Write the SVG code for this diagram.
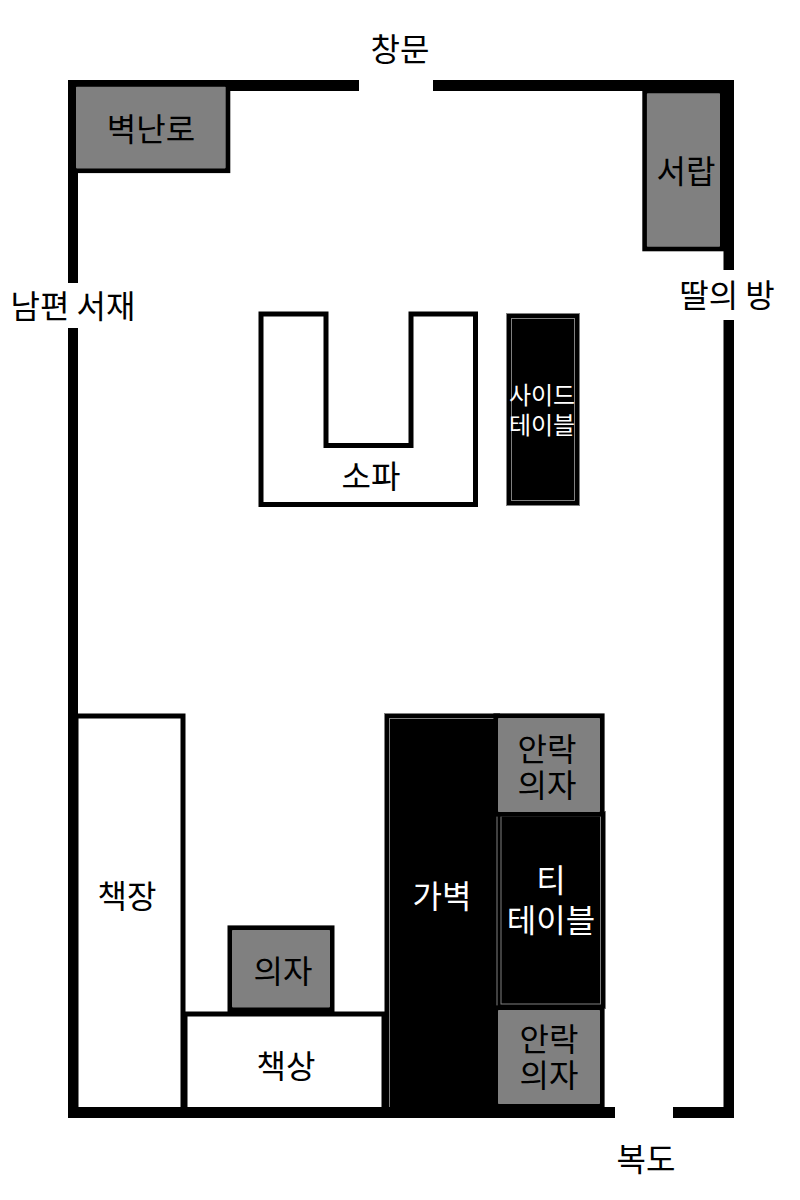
<svg xmlns="http://www.w3.org/2000/svg" width="800" height="1200" viewBox="0 0 800 1200">
<style>
text{font-family:"Noto Sans CJK KR","Liberation Sans",sans-serif;font-size:32px;text-anchor:middle;fill:#000}
.w{fill:#fff}
.s{font-size:24px}
.wall{fill:#000}
.gray{fill:#808080}
.edge{fill:#000}
.white{fill:#fff;stroke:#000;stroke-width:5}
.black{fill:#000;stroke:#808080;stroke-width:1}
.in{fill:none;stroke:#808080;stroke-width:1}
</style>
<rect width="800" height="1200" fill="#fff"/>
<g id="partition"><rect class="black" x="384.500" y="713.500" width="115" height="400"/><rect class="in" x="389.500" y="718.500" width="110" height="395"/><text class="w" x="442" y="908">가벽</text></g>
<g id="bookcase"><rect class="white" x="76" y="716" width="107" height="396"/><text x="127" y="908">책장</text></g>
<g id="desk"><rect class="white" x="185" y="1014" width="199" height="96"/><text x="286" y="1078">책상</text></g>
<g id="chair"><rect class="edge" x="227.500" y="925.400" width="107" height="86.600"/><rect class="gray" x="232" y="930" width="98" height="77.400" rx="0.800"/><text x="283" y="983">의자</text></g>
<g id="tea-table"><rect class="black" x="497" y="811.500" width="108.500" height="197"/><rect class="in" x="501" y="816" width="99.500" height="188"/><text class="w" x="551" y="892">티</text><text class="w" x="551" y="932">테이블</text></g>
<g id="armchair-1"><rect class="edge" x="493.400" y="713.400" width="111.200" height="103.200"/><rect class="gray" x="498" y="718" width="102" height="94" rx="0.800"/><text x="547" y="761">안락</text><text x="547" y="797">의자</text></g>
<g id="armchair-2"><rect class="edge" x="493.400" y="1005.400" width="111.200" height="103.200"/><rect class="gray" x="498" y="1010" width="102" height="94" rx="0.800"/><text x="549" y="1051">안락</text><text x="549" y="1087">의자</text></g>
<g id="walls">
<rect class="wall" x="68" y="80" width="291" height="11"/>
<rect class="wall" x="433" y="80" width="301" height="11"/>
<rect class="wall" x="68" y="80" width="10" height="203"/>
<rect class="wall" x="68" y="328" width="10" height="790"/>
<rect class="wall" x="723.500" y="80" width="10.500" height="190"/>
<rect class="wall" x="723.500" y="320" width="10.500" height="798"/>
<rect class="wall" x="68" y="1107" width="547" height="11"/>
<rect class="wall" x="673" y="1107" width="61" height="11"/>
</g>
<g id="heater"><rect class="edge" x="71.400" y="82" width="158.900" height="91.100"/><rect class="gray" x="76" y="86.700" width="149.700" height="81.700" rx="0.800"/><text x="151" y="141">벽난로</text></g>
<g id="drawer"><rect class="edge" x="642.300" y="88.700" width="82.100" height="162.600"/><rect class="gray" x="646.900" y="93.300" width="73.100" height="153.400" rx="0.800"/><text x="686" y="183">서랍</text></g>
<g id="sofa"><path d="M261 314H326V445.500H411V314H475.500V504.500H261Z" fill="#fff" stroke="#000" stroke-width="5"/><text x="371" y="488">소파</text></g>
<g id="side-table"><rect class="black" x="506.500" y="313.500" width="73" height="192"/><rect class="in" x="511.500" y="318.500" width="63" height="182"/><text class="s w" x="542" y="404">사이드</text><text class="s w" x="542" y="434">테이블</text></g>
<g id="labels"><text x="400" y="61">창문</text><text x="73" y="318">남편 서재</text><text x="727" y="307">딸의 방</text><text x="646" y="1171">복도</text></g>
</svg>
